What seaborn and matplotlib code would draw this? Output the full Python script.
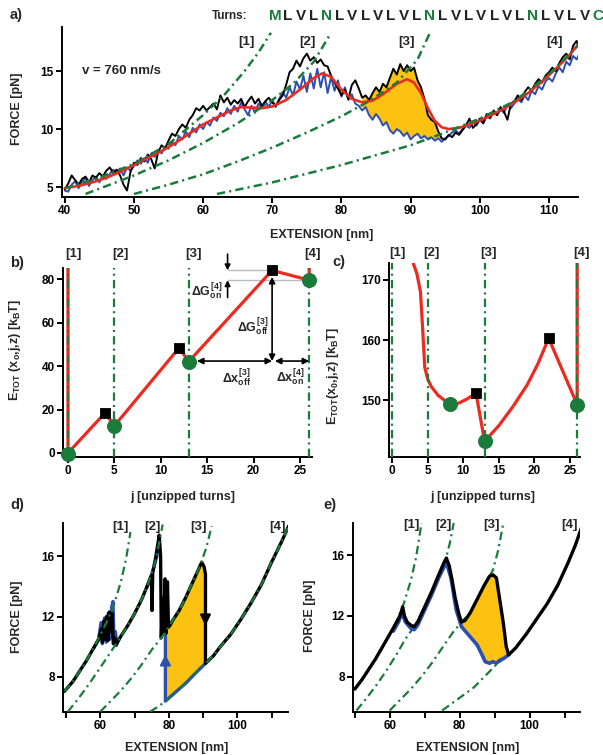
import numpy as np
import matplotlib
matplotlib.use("Agg")
import matplotlib.pyplot as plt
import matplotlib.transforms as mtransforms
import seaborn as sns

# ---------------- DATA ----------------
# panel a: force-extension traces (sampled every 0.5 nm from 40 nm)
ext_a = np.arange(40.0, 114.75, 0.5)
black_a = [4.8, 5.3, 6.0, 5.6, 5.2, 5.7, 5.9, 5.4, 6.0, 5.8,
           6.2, 5.9, 6.4, 6.7, 6.2, 6.5, 6.0, 5.2, 4.7, 6.3,
           7.1, 6.9, 7.5, 7.2, 7.8, 7.4, 6.6, 8.0, 8.6, 8.3,
           9.0, 9.6, 9.4, 10.0, 10.4, 10.1, 10.8, 11.2, 11.8, 11.6,
           12.0, 11.6, 11.9, 12.2, 11.7, 12.9, 12.3, 12.7, 12.1, 12.5,
           12.2, 12.6, 11.9, 12.4, 12.8, 12.2, 12.6, 12.0, 12.4, 12.7,
           12.3, 12.0, 12.5, 12.9, 13.8, 14.9, 15.2, 15.9, 15.4, 16.1,
           16.5, 15.9, 16.2, 15.7, 16.0, 15.5, 15.4, 14.6, 14.0, 13.5,
           12.9, 13.4, 12.6, 13.8, 14.2, 13.5, 12.7, 12.9, 12.5, 13.1,
           13.6, 13.2, 13.9, 13.6, 14.4, 15.2, 14.7, 15.6, 15.0, 15.5,
           15.0, 15.3, 14.2, 13.6, 12.6, 11.2, 10.8, 10.6, 9.8, 9.2,
           9.1, 9.5, 9.3, 9.7, 9.5, 9.9, 10.3, 10.9, 10.1, 10.4,
           10.9, 10.5, 11.3, 11.0, 11.6, 11.2, 11.9, 11.5, 10.8, 12.2,
           12.4, 12.9, 12.5, 13.2, 13.6, 13.3, 13.9, 14.3, 14.0, 14.6,
           14.9, 15.3, 15.0, 15.7, 16.2, 16.5, 16.0, 17.2, 17.6, 16.6]
blue_a = [4.7, 4.6, 5.2, 5.5, 4.9, 5.4, 5.8, 5.1, 5.6, 5.9,
          5.4, 6.0, 5.7, 6.1, 6.5, 6.2, 6.6, 6.0, 6.7, 6.4,
          6.8, 7.3, 7.0, 7.5, 7.1, 7.9, 7.6, 8.2, 7.9, 8.5,
          8.3, 8.9, 8.6, 9.4, 9.1, 9.8, 9.3, 10.1, 9.7, 10.4,
          10.0, 10.6, 10.3, 11.0, 10.7, 11.4, 11.1, 11.8, 11.3, 12.0,
          11.5, 12.3, 11.7, 11.2, 12.0, 11.4, 12.2, 11.8, 12.4, 11.9,
          12.5, 11.9, 12.6, 13.2, 12.7, 13.6, 12.9, 14.1, 13.4, 14.6,
          13.2, 14.8, 13.5, 15.2, 13.6, 14.9, 13.1, 14.5, 13.3, 14.2,
          12.8, 13.6, 12.5, 13.0, 12.2, 12.0, 11.6, 11.9, 11.2, 10.8,
          11.3, 10.9, 10.3, 10.6, 9.9, 9.6, 10.0, 9.8, 9.4, 9.7,
          9.1, 9.4, 9.6, 9.2, 9.4, 9.1, 9.3, 9.0, 9.2, 8.9,
          9.2, 9.4, 9.7, 9.9, 9.6, 10.0, 10.3, 10.1, 10.6, 10.3,
          10.8, 10.5, 11.1, 10.9, 11.5, 11.2, 11.7, 11.4, 12.1, 11.8,
          12.2, 12.6, 12.3, 12.9, 12.5, 13.3, 13.0, 13.7, 13.4, 14.1,
          14.4, 14.1, 14.8, 15.3, 14.9, 15.8, 15.5, 16.3, 16.0, 16.6]
red_a_x = [40, 42, 44, 46, 48, 50, 52, 54, 56, 58, 60, 62, 64, 65.5, 67, 68.5, 70, 72, 74,
           76, 77.2, 78.5, 80, 81.5, 83, 84.5, 86, 88, 89.5, 90.5, 91.5, 92.5, 93.5, 94.5,
           95.5, 97, 99, 101, 103, 105, 107, 109, 111, 113, 114.5]
red_a_y = [4.9, 5.1, 5.4, 5.8, 6.3, 6.9, 7.5, 8.1, 8.8, 9.6, 10.4, 11.0, 11.6, 11.9, 11.85,
           11.8, 11.95, 12.5, 13.4, 14.4, 14.8, 14.5, 13.4, 12.6, 12.3, 12.45, 13.0, 13.9,
           14.3, 14.0, 13.1, 11.8, 10.7, 10.15, 10.0, 10.1, 10.5, 11.0, 11.6, 12.3, 13.1,
           14.1, 15.2, 16.4, 17.5]
a_g1_x = [40, 45, 50, 55, 60, 63, 66, 68, 69.8]
a_g1_y = [4.9, 5.8, 7.0, 8.7, 11.2, 12.9, 15.0, 16.6, 18.3]
a_g2_x = [43, 50, 55, 60, 65, 70, 73, 76, 78.5]
a_g2_y = [4.4, 6.0, 7.3, 8.8, 10.5, 12.5, 13.9, 15.8, 18.3]
a_g3_x = [50, 55, 60, 65, 70, 75, 80, 84, 88, 91, 92.8]
a_g3_y = [4.4, 5.2, 6.1, 7.2, 8.4, 9.7, 11.1, 12.4, 14.0, 16.0, 18.3]
a_g4_x = [62, 70, 80, 90, 95, 100, 105, 110, 114.5]
a_g4_y = [4.4, 5.4, 6.9, 8.6, 9.7, 10.9, 12.4, 14.7, 17.4]
a_xticks = [40, 50, 60, 70, 80, 90, 100, 110]
a_yticks = [5, 10, 15]
a_label_x = [66.2, 75.1, 89.4, 110.8]
turns = list("MLVLNLVLVLVLNLVLVLVLNLVLVC")
state_labels = ["[1]", "[2]", "[3]", "[4]"]

# panel b: energy landscape at j
b_red_x = [0, 0, 4, 5, 12, 13, 22, 26, 26]
b_red_y = [86, 0, 18.5, 12.5, 48.5, 42, 84, 79.5, 86]
b_min_x = [0, 5, 13, 26]
b_min_y = [-0.5, 12.5, 42, 79.5]
b_ts_x = [4, 12, 22]
b_ts_y = [18.5, 48.5, 84]
b_lines = [0, 5, 13, 26]
b_label_x = [0.55, 5.6, 13.5, 26.4]

# panel c
c_red_x = [3.0, 3.5, 4.0, 4.3, 4.6, 5.0, 5.5, 6.5, 7.5, 8.2, 9.3, 10.5, 11.8, 13.0,
           15.0, 17.0, 19.0, 20.5, 22.0, 26.0, 26.0]
c_red_y = [172.7, 171.0, 168.0, 162.0, 155.5, 153.6, 152.3, 150.8, 149.9, 149.4, 149.5,
           150.2, 151.2, 143.2, 145.8, 149.0, 152.6, 156.1, 160.3, 149.3, 173.0]
c_min_x = [8.2, 13, 26]
c_min_y = [149.4, 143.2, 149.3]
c_ts_x = [11.8, 22]
c_ts_y = [151.2, 160.3]
c_lines = [0, 5, 13, 26]
c_label_x = [0.7, 5.6, 13.5, 26.6]

# panel d (simulation, v high)
d_black_x = [49.5, 52, 54, 56, 58, 59.5, 60.3, 60.6, 61.0, 61.4, 61.8, 62.2, 62.6, 63.0,
             63.4, 63.8, 64.2, 64.6, 65.2, 66, 68, 70, 72, 74, 74.9, 75.1, 75.3, 76, 76.8,
             77.2, 77.6, 77.8, 78.2, 78.5, 78.9, 79.2, 79.6, 79.9, 80.3, 81, 83, 85, 87, 89,
             89.6, 90.3, 90.7, 90.7, 93, 95, 98, 101, 104, 107, 110, 113, 115]
d_black_y = [7.05, 7.7, 8.4, 9.1, 9.9, 10.5, 11.2, 10.3, 11.7, 10.5, 12.0, 10.4, 12.3, 11.0,
             12.2, 10.2, 10.6, 10.1, 10.4, 10.7, 11.4, 12.2, 13.1, 14.2, 14.7, 12.4, 14.9,
             15.7, 16.8, 17.4, 16.0, 10.6, 13.2, 11.0, 14.5, 10.9, 14.3, 11.3, 11.4, 11.7,
             12.4, 13.3, 14.3, 15.3, 15.6, 15.3, 14.8, 8.9, 9.4, 10.0, 10.8, 11.8, 12.9,
             14.1, 15.6, 17.0, 18.0]
d_blue1_x = [58, 59.5, 60.2, 60.6, 61.2, 61.7, 62.3, 62.8, 63.3, 63.7, 64.0, 64.4, 64.8, 65.5]
d_blue1_y = [9.9, 10.5, 11.6, 10.2, 11.9, 10.3, 12.2, 10.5, 12.6, 13.0, 10.3, 11.0, 10.2, 10.5]
d_blue2_x = [73.5, 75, 76.5, 77.2]
d_blue2_y = [13.9, 14.8, 16.0, 17.0]
d_blue3_x = [79.0, 79.0, 82, 85, 88, 90.7]
d_blue3_y = [10.95, 6.4, 7.0, 7.6, 8.3, 8.9]
d_fill_x = [79.0, 79.0, 81, 83, 85, 87, 89, 89.6, 90.3, 90.7, 90.7, 88, 85, 82, 79.0]
d_fill_y = [6.4, 10.95, 11.7, 12.4, 13.3, 14.3, 15.3, 15.6, 15.3, 14.8, 8.9, 8.3, 7.6, 7.0, 6.4]
d_g1_x = [49.5, 52, 54, 56, 58, 60, 62, 64, 66, 67.5, 68.8]
d_g1_y = [7.05, 7.7, 8.4, 9.1, 9.9, 10.8, 11.7, 12.8, 14.3, 15.8, 17.6]
d_g2_x = [50.5, 53, 56, 59, 62, 65.2, 68, 70, 72, 74, 76, 77.3, 78.2]
d_g2_y = [5.7, 6.4, 7.3, 8.3, 9.3, 10.4, 11.4, 12.2, 13.1, 14.2, 15.6, 17.0, 18.1]
d_g3_x = [60, 63, 66, 69, 72, 75, 77.5, 79, 81, 83, 85, 87, 89, 91, 92.5]
d_g3_y = [5.7, 6.4, 7.1, 7.9, 8.8, 9.8, 10.5, 10.95, 11.7, 12.4, 13.3, 14.3, 15.3, 16.6, 18.0]
d_g4_x = [74.5, 77, 79, 82, 85, 88, 90.7, 93, 95, 98, 101, 104, 107, 110, 113, 115]
d_g4_y = [5.7, 6.05, 6.4, 7.0, 7.6, 8.3, 8.9, 9.4, 10.0, 10.8, 11.8, 12.9, 14.1, 15.6, 17.0, 18.0]
d_label_x = [65.8, 75.2, 88.6, 111.7]

# panel e (simulation, v low)
e_black_x = [50, 52, 54, 56, 58, 60, 61.5, 62.5, 63.2, 63.7, 64.2, 65, 66, 67, 68, 70, 72, 74,
             75.5, 76.2, 77, 77.8, 78.7, 79.7, 80.5, 81.5, 83, 85, 87, 88.5, 89.5, 90.5, 91.5,
             92.5, 93.3, 94, 96, 99, 102, 105, 108, 111, 113, 115]
e_black_y = [7.2, 7.8, 8.5, 9.2, 10.0, 10.8, 11.4, 11.8, 12.2, 12.6, 12.0, 11.6, 11.4, 11.3,
             11.6, 12.6, 13.6, 14.7, 15.5, 15.8, 15.3, 14.4, 13.2, 12.2, 11.6, 11.7, 12.2,
             13.1, 14.0, 14.6, 14.7, 14.5, 13.0, 11.5, 10.0, 9.45, 9.9, 10.8, 11.8, 12.8,
             14.0, 15.5, 16.6, 17.9]
e_blue_x = [61, 62.5, 63.5, 64.5, 66, 67, 68, 70, 72, 74, 75.5, 76.2, 77.5, 79, 80.5, 82,
            83.5, 85, 86.5, 87.3, 88.5, 89.5, 90.5, 91.5, 92.5, 94]
e_blue_y = [11.0, 11.6, 12.2, 11.6, 11.2, 11.1, 11.4, 12.4, 13.4, 14.5, 15.2, 15.5, 14.5,
            12.4, 11.3, 10.9, 10.5, 10.1, 9.4, 9.0, 8.9, 9.0, 8.9, 9.1, 9.2, 9.45]
e_fill_x = [80.5, 81.5, 83, 85, 87, 88.5, 89.5, 90.5, 91.5, 92.5, 93.3, 94,
            92.5, 91.5, 90.5, 89.5, 88.5, 87.3, 86.5, 85, 83.5, 82, 80.5]
e_fill_y = [11.6, 11.7, 12.2, 13.1, 14.0, 14.6, 14.7, 14.5, 13.0, 11.5, 10.0, 9.45,
            9.2, 9.1, 8.9, 9.0, 8.9, 9.0, 9.4, 10.1, 10.5, 10.9, 11.3]
e_g1_x = [50, 54, 58, 60, 62, 64, 66, 67.5, 69.1]
e_g1_y = [7.2, 8.5, 10.0, 10.8, 11.7, 12.8, 14.3, 15.8, 18.1]
e_g2_x = [50.5, 53, 56, 59, 62, 64.5, 67, 70, 72, 74, 76, 77.2, 78.3]
e_g2_y = [5.8, 6.5, 7.4, 8.4, 9.5, 10.5, 11.3, 12.6, 13.6, 14.7, 15.7, 16.8, 18.1]
e_g3_x = [60, 63, 66, 69, 72, 75, 78, 80.5, 83, 85, 87, 89.5, 91, 92.5]
e_g3_y = [5.8, 6.5, 7.2, 8.0, 8.9, 9.9, 10.9, 11.6, 12.2, 13.1, 14.0, 15.0, 16.3, 18.1]
e_g4_x = [75, 78, 81, 84, 87, 90, 92, 94, 96, 99, 102, 105, 108, 111, 113, 115]
e_g4_y = [5.8, 6.3, 6.8, 7.3, 8.0, 8.7, 9.1, 9.45, 9.9, 10.8, 11.8, 12.8, 14.0, 15.5, 16.6, 17.9]
e_label_x = [66.2, 75.4, 89.2, 111.4]
de_xticks = [50, 60, 70, 80, 90, 100, 110]
de_xticklabels = ["", "60", "", "80", "", "100", ""]
de_yticks = [8, 12, 16]

# ---------------- STYLE ----------------
sns.set_style("ticks")
plt.rcParams.update({
    "font.family": ["Liberation Sans", "DejaVu Sans"],
    "font.weight": "bold",
    "axes.labelweight": "bold",
    "mathtext.fontset": "custom",
    "mathtext.rm": "Liberation Sans:bold",
    "mathtext.it": "Liberation Sans:bold",
    "mathtext.bf": "Liberation Sans:bold",
    "mathtext.sf": "Liberation Sans:bold",
    "lines.scale_dashes": False,
    "axes.linewidth": 1.4,
    "axes.edgecolor": "black",
    "xtick.major.width": 1.4, "ytick.major.width": 1.4,
    "xtick.major.size": 4, "ytick.major.size": 4,
    "xtick.labelsize": 8.5, "ytick.labelsize": 8.5,
    "xtick.major.pad": 2, "ytick.major.pad": 2,
    "xtick.color": "black", "ytick.color": "black",
})

RED = "#ec2a1f"
GREEN = "#1b7b3b"
BLUE = "#2c4fb0"
YEL = "#fcc212"
LS = (0, (6, 3, 1.5, 3))

W, H = 603, 755
fig = plt.figure(figsize=(W / 100, H / 100), dpi=100)


def px_axes(l, t, r, b):
    return fig.add_axes([l / W, 1 - b / H, (r - l) / W, (b - t) / H])


def line(ax, x, y, **kw):
    sns.lineplot(x=np.asarray(x, float), y=np.asarray(y, float), ax=ax, sort=False,
                 estimator=None, legend=False, **kw)


def finish(ax):
    sns.despine(ax=ax)
    ax.tick_params(direction="out")


def labels(ax, xl, yl, xpos, ypos, size=9):
    ax.set_xlabel(xl, fontsize=size)
    ax.set_ylabel(yl, fontsize=size)
    ax.xaxis.set_label_coords(*xpos)
    ax.yaxis.set_label_coords(*ypos)
    ax.xaxis.label.set_va("center")
    ax.yaxis.label.set_va("center")


def ftext(x, y, s, **kw):
    fig.text(x / W, 1 - y / H, s, **kw)


# ---------------- PANEL A ----------------
axA = px_axes(62, 27, 578, 197)
ba = np.asarray(black_a)
bl = np.asarray(blue_a)
axA.fill_between(ext_a, bl, ba, where=(ext_a >= 83.0) & (ext_a <= 95.5) & (ba > bl),
                 interpolate=True, color=YEL, lw=0, zorder=1)
line(axA, ext_a, blue_a, color=BLUE, lw=1.4, zorder=2)
line(axA, ext_a, black_a, color="black", lw=1.4, zorder=3)
line(axA, red_a_x, red_a_y, color=RED, lw=1.9, zorder=4)
for gx, gy in [(a_g1_x, a_g1_y), (a_g2_x, a_g2_y), (a_g3_x, a_g3_y), (a_g4_x, a_g4_y)]:
    line(axA, gx, gy, color=GREEN, lw=1.8, linestyle=LS, zorder=5)
axA.set_xlim(39.6, 114.2)
axA.set_ylim(4.14, 18.8)
axA.set_xticks(a_xticks)
axA.set_yticks(a_yticks)
finish(axA)
labels(axA, "EXTENSION [nm]", "FORCE [pN]", (0.504, -0.224), (-0.087, 0.52))
for xl, s in zip(a_label_x, state_labels):
    axA.text(xl, 17.5, s, ha="center", va="center", fontsize=9.5)
axA.text(42.5, 15.0, "v = 760 nm/s", ha="left", va="center", fontsize=9.5)
ftext(10, 15, "a)", fontsize=10.5, ha="left", va="center")
ftext(247, 16, "Turns:", fontsize=8.5, ha="right", va="center")
for i, ch in enumerate(turns):
    ftext(275 + i * 12.9, 16, ch, fontsize=11, ha="center", va="center",
          color=GREEN if ch in "MNC" else "#222222")

# ---------------- PANEL B ----------------
axB = px_axes(63, 268, 312, 457)
line(axB, b_red_x, b_red_y, color=RED, lw=2.3, zorder=2)
for j in b_lines:
    axB.axvline(j, color=GREEN, lw=1.6, linestyle=LS, zorder=3)
axB.plot([17.2, 22], [84, 84], color="#b5bcc4", lw=1.0, zorder=1)
axB.plot([17.2, 26], [79.5, 79.5], color="#b5bcc4", lw=1.0, zorder=1)
sns.scatterplot(x=b_min_x, y=b_min_y, ax=axB, marker="o", s=100, color=GREEN,
                edgecolor=GREEN, zorder=6, legend=False, clip_on=False)
sns.scatterplot(x=b_ts_x, y=b_ts_y, ax=axB, marker="s", s=55, color="black",
                edgecolor="black", zorder=6, legend=False, clip_on=False)
ak = dict(color="black", lw=1.2, shrinkA=0, shrinkB=0)
axB.annotate("", xy=(17.2, 84), xytext=(17.2, 91.5),
             arrowprops=dict(arrowstyle="-|>", mutation_scale=8, **ak), annotation_clip=False)
axB.annotate("", xy=(17.2, 79.5), xytext=(17.2, 71.5),
             arrowprops=dict(arrowstyle="-|>", mutation_scale=8, **ak))
axB.annotate("", xy=(22, 81), xytext=(22, 42.3),
             arrowprops=dict(arrowstyle="<|-|>", mutation_scale=9, **ak))
axB.annotate("", xy=(13.9, 42.3), xytext=(22, 42.3),
             arrowprops=dict(arrowstyle="<|-|>", mutation_scale=9, **ak))
axB.annotate("", xy=(22.3, 42.3), xytext=(26.0, 42.3),
             arrowprops=dict(arrowstyle="<|-|>", mutation_scale=9, **ak))
axB.text(16.7, 74, r"$\Delta G_{on}^{[4]}$", ha="right", va="center", fontsize=9)
axB.text(21.7, 58, r"$\Delta G_{off}^{[3]}$", ha="right", va="center", fontsize=9)
axB.text(18.2, 34.5, r"$\Delta x_{off}^{[3]}$", ha="center", va="center", fontsize=9)
axB.text(24.0, 34.5, r"$\Delta x_{on}^{[4]}$", ha="center", va="center", fontsize=9)
axB.set_xlim(-0.54, 26.3)
axB.set_ylim(-1.84, 85.1)
axB.set_xticks([0, 5, 10, 15, 20, 25])
axB.set_yticks([0, 20, 40, 60, 80])
finish(axB)
labels(axB, "j [unzipped turns]", r"E$_{TOT}$ (x$_o$,j,z) [k$_B$T]",
       (0.482, -0.212), (-0.193, 0.566))
trB = mtransforms.blended_transform_factory(axB.transData, axB.transAxes)
for xl, s in zip(b_label_x, state_labels):
    axB.text(xl, 1.074, s, transform=trB, ha="center", va="center", fontsize=9.5, clip_on=False)
ftext(10, 263, "b)", fontsize=10.5, ha="left", va="center")

# ---------------- PANEL C ----------------
axC = px_axes(389, 263, 580, 457)
line(axC, c_red_x, c_red_y, color=RED, lw=2.3, zorder=2)
for j in c_lines:
    axC.axvline(j, color=GREEN, lw=1.6, linestyle=LS, zorder=3)
sns.scatterplot(x=c_min_x, y=c_min_y, ax=axC, marker="o", s=100, color=GREEN,
                edgecolor=GREEN, zorder=6, legend=False, clip_on=False)
sns.scatterplot(x=c_ts_x, y=c_ts_y, ax=axC, marker="s", s=50, color="black",
                edgecolor="black", zorder=6, legend=False, clip_on=False)
axC.set_xlim(-0.42, 26.4)
axC.set_ylim(140.6, 172.8)
axC.set_xticks([0, 5, 10, 15, 20, 25])
axC.set_yticks([150, 160, 170])
finish(axC)
labels(axC, "j [unzipped turns]", r"E$_{TOT}$(x$_0$,j,z) [k$_B$T]",
       (0.49, -0.206), (-0.293, 0.418))
trC = mtransforms.blended_transform_factory(axC.transData, axC.transAxes)
for xl, s in zip(c_label_x, state_labels):
    axC.text(xl, 1.05, s, transform=trC, ha="center", va="center", fontsize=9.5, clip_on=False)
ftext(332, 262, "c)", fontsize=10.5, ha="left", va="center")

# ---------------- PANEL D ----------------
axD = px_axes(63, 523, 288, 712)
axD.fill(d_fill_x, d_fill_y, color=YEL, lw=0, zorder=1)
line(axD, d_blue1_x, d_blue1_y, color=BLUE, lw=2.4, zorder=2)
line(axD, d_blue2_x, d_blue2_y, color=BLUE, lw=2.4, zorder=2)
line(axD, d_blue3_x, d_blue3_y, color=BLUE, lw=2.4, zorder=2)
line(axD, d_black_x, d_black_y, color="black", lw=2.4, zorder=3)
for gx, gy in [(d_g1_x, d_g1_y), (d_g2_x, d_g2_y), (d_g3_x, d_g3_y), (d_g4_x, d_g4_y)]:
    line(axD, gx, gy, color=GREEN, lw=1.6, linestyle=LS, zorder=4)
axD.annotate("", xy=(79.0, 9.5), xytext=(79.0, 7.6),
             arrowprops=dict(arrowstyle="-|>", color=BLUE, lw=1.5, mutation_scale=16,
                             shrinkA=0, shrinkB=0), zorder=5)
axD.annotate("", xy=(90.7, 11.4), xytext=(90.7, 12.9),
             arrowprops=dict(arrowstyle="-|>", color="black", lw=1.5, mutation_scale=16,
                             shrinkA=0, shrinkB=0), zorder=5)
axD.set_xlim(49.1, 114.8)
axD.set_ylim(5.68, 18.2)
axD.set_xticks(de_xticks)
axD.set_xticklabels(de_xticklabels)
axD.set_yticks(de_yticks)
finish(axD)
labels(axD, "EXTENSION [nm]", "FORCE [pN]", (0.507, -0.19), (-0.204, 0.503))
for xl, s in zip(d_label_x, state_labels):
    axD.text(xl, 17.95, s, ha="center", va="center", fontsize=9.5, clip_on=False)
ftext(10, 505, "d)", fontsize=10.5, ha="left", va="center")

# ---------------- PANEL E ----------------
axE = px_axes(353, 523, 580, 712)
for gx, gy in [(e_g1_x, e_g1_y), (e_g2_x, e_g2_y), (e_g3_x, e_g3_y), (e_g4_x, e_g4_y)]:
    line(axE, gx, gy, color=GREEN, lw=1.6, linestyle=LS, zorder=1)
axE.fill(e_fill_x, e_fill_y, color=YEL, lw=0, zorder=2)
line(axE, e_blue_x, e_blue_y, color=BLUE, lw=2.6, zorder=3)
line(axE, e_black_x, e_black_y, color="black", lw=2.4, zorder=4)
axE.set_xlim(49.5, 114.4)
axE.set_ylim(5.7, 18.1)
axE.set_xticks(de_xticks)
axE.set_xticklabels(de_xticklabels)
axE.set_yticks(de_yticks)
finish(axE)
labels(axE, "EXTENSION [nm]", "FORCE [pN]", (0.507, -0.19), (-0.189, 0.51))
for xl, s in zip(e_label_x, state_labels):
    axE.text(xl, 17.95, s, ha="center", va="center", fontsize=9.5, clip_on=False)
ftext(323, 505, "e)", fontsize=10.5, ha="left", va="center")

fig.savefig("out.png", dpi=100)
